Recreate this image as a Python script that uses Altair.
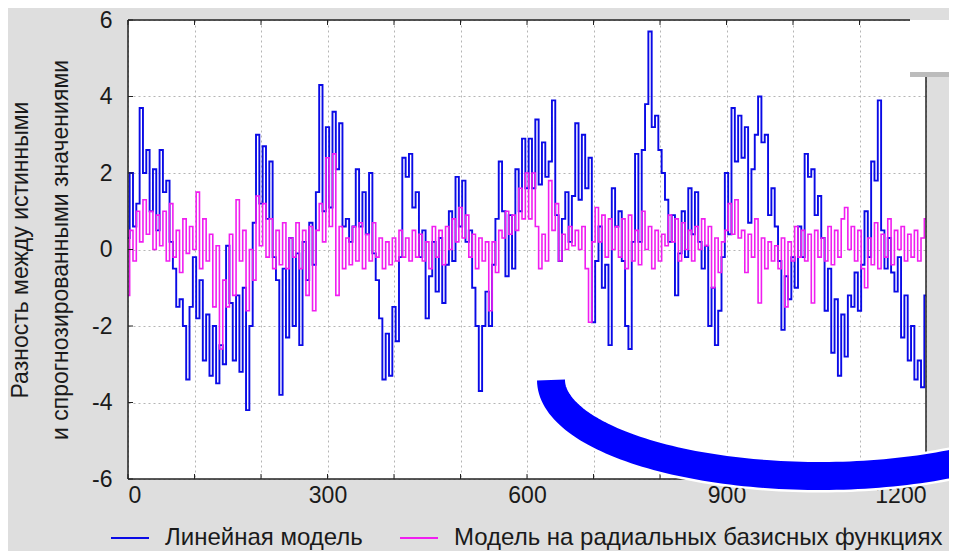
import altair as alt
import pandas as pd
import numpy as np

# ---------------- data ----------------
X_START = 0
X_STEP = 5

BLUE = [
    0.3, 2.0, 0.6, 1.2, 3.7, 2.0, 2.6, 1.0, 2.1, 0.5,
    2.6, 1.5, 1.8, 0.2, -0.5, -1.5, -1.3, -2.0, -3.4, -1.5,
    -0.2, -1.8, -0.8, -2.9, -1.7, -3.3, -2.0, -3.5, -2.5, -3.0,
    0.1, -1.4, -2.9, -1.2, -3.2, -1.0, -4.2, -2.0, 0.7, 3.0,
    1.2, 2.7, 0.8, 2.3, -0.2, -0.8, -3.8, -0.5, -2.3, 0.3,
    -2.0, -0.1, -2.5, 0.2, -0.8, 0.7, -0.4, 1.5, 4.3, 1.0,
    3.2, 1.1, 3.6, 2.1, 3.3, 0.6, 0.8, 0.2, 0.6, 2.1,
    0.6, 1.5, 0.4, 2.0, -0.1, -0.8, -1.8, -3.4, -2.2, -3.3,
    -1.5, -2.4, -0.2, 2.4, 1.9, 2.5, 1.1, 1.5, -0.2, 0.5,
    -1.8, -0.7, 0.2, -1.1, 0.3, -1.4, -0.4, 1.0, -0.3, 1.9,
    0.6, 1.8, 0.2, 0.5, -1.0, -2.0, -3.7, -2.0, -1.1, -2.0,
    -0.4, 0.8, 2.3, 1.0, -0.7, 0.9, -0.5, 2.1, 1.0, 2.9,
    1.6, 2.9, 1.6, 3.4, 1.7, 2.8, 1.9, 2.3, 3.9, 0.9,
    -0.3, 0.8, 1.5, 0.2, 1.4, 3.3, 1.3, 3.0, 1.6, 2.4,
    -1.9, -0.3, 0.6, -1.0, -0.4, -2.5, 1.6, 0.6, 1.0, -0.3,
    -2.0, -2.6, 0.2, 2.5, 0.2, 2.6, 3.8, 5.7, 3.2, 3.5,
    2.6, 2.0, 1.3, 0.2, 0.9, -1.2, -0.1, 1.0, -0.2, 1.6,
    0.4, 1.5, 0.2, -0.5, 0.1, -2.0, -1.0, -2.5, -1.6, -0.2,
    2.0, 0.4, 3.7, 2.3, 3.5, 2.4, 3.2, 0.7, 2.1, 3.0,
    4.0, 2.8, 3.0, 0.9, 1.6, 0.6, -0.3, -2.1, -0.7, -1.3,
    -0.2, -1.0, 0.6, -0.2, 2.5, 1.9, 2.1, 0.9, 1.4, 0.3,
    -1.6, -0.5, -2.7, -1.3, -3.3, -1.7, -2.8, -1.2, -1.5, -0.6,
    -1.6, -0.4, 1.0, -0.2, 2.3, 1.8, 3.9, 0.5, -0.5, 0.3,
    -0.6, -1.1, -0.2, -2.3, -1.2, -2.9, -2.0, -3.4, -2.9, -3.6,
    -1.2,
]

MAGENTA = [
    -1.2, 0.5, -0.3, 1.0, 0.2, 1.3, 0.4, 1.0, 0.0, 0.9,
    0.1, 1.0, -0.3, 1.2, -0.2, 0.5, -0.6, 0.8, -0.1, 0.6,
    0.0, 1.5, -0.5, 0.8, -0.3, 0.4, -1.5, 0.1, -2.6, -0.8,
    -1.5, 0.4, -1.2, 1.3, -0.3, 0.5, -1.6, 0.0, -0.8, 1.4,
    0.1, 1.2, -0.2, 0.8, -0.5, 0.5, -0.4, 0.7, -0.5, 0.3,
    -0.2, 0.7, -0.5, 0.5, -1.2, 0.6, -1.6, 0.5, 1.2, 0.2,
    2.4, 0.6, 2.5, -1.2, 0.6, -0.5, 0.3, -0.4, 0.6, -0.3,
    0.7, -0.5, 0.4, -0.3, 0.7, -0.2, 0.3, -0.5, 0.2, -0.4,
    0.3, -0.3, 0.5, -0.2, 0.3, -0.3, 0.5, -0.2, 0.4, -0.3,
    0.2, -0.5, 0.6, -0.2, 0.5, -0.4, 0.6, 0.0, 0.8, 0.2,
    1.1, 0.3, 0.9, -0.2, 0.4, -0.5, 0.3, -0.3, 0.2, -1.6,
    0.2, -0.6, 0.5, 0.3, 1.0, 0.4, 0.9, 0.5, 1.6, 0.8,
    2.0, 0.8, 2.0, 0.6, -0.5, 0.4, -0.3, 1.8, 0.5, 1.2,
    -0.3, 0.4, 0.0, 0.6, 0.1, 0.5, 0.0, 0.6, -0.5, -1.9,
    0.2, 1.1, 0.2, 0.9, -0.2, 0.8, 0.0, 0.6, -0.2, 0.8,
    -0.5, 0.9, -0.3, 0.5, -0.4, 1.0, 0.0, 0.6, -0.5, 0.5,
    -0.3, 0.4, 0.1, 0.9, 0.2, 0.8, -0.3, 0.7, 0.0, 0.5,
    -0.3, 0.6, 0.0, 0.8, 0.1, 0.6, -1.0, 0.3, -0.6, 0.2,
    0.5, 1.2, 0.4, 1.3, 0.3, 0.5, -0.6, 0.4, -0.2, 0.8,
    -1.4, 0.3, -0.5, 0.2, -0.3, 0.1, -0.5, 0.3, -1.5, 0.2,
    -0.3, 0.6, -0.2, 0.5, -0.3, 0.4, -1.4, 0.5, -0.2, 0.3,
    -0.3, 0.6, -0.4, 0.5, -0.2, 0.8, 1.1, 0.0, 0.6, -0.3,
    0.5, -0.5, -1.0, 0.3, -0.4, 0.7, -0.5, 0.4, -0.2, 0.8,
    -0.4, 0.5, 0.0, 0.6, -0.3, 0.4, -0.2, 0.5, -0.3, 0.3,
    0.8,
]

SERIES = ["Линейная модель", "Модель на радиальных базисных функциях"]
COLORS = ["#0a0ae6", "#f01ef0"]
X_TICKS = [0, 100, 200, 300, 400, 500, 600, 700, 800, 900, 1000, 1100, 1200]
Y_TICKS = [-6, -4, -2, 0, 2, 4, 6]
Y_TITLE = ["Разность между истинными", "и спрогнозированными значениями"]

# ---------------- layout ----------------
W, H = 798, 459
FONT = "Liberation Sans"
TXT = "#1a1a1a"
FS = 23
LFS = 24

xs = [X_START + i * X_STEP for i in range(len(BLUE))]
df_b = pd.DataFrame({"t": xs, "v": BLUE, "s": SERIES[0]})
df_m = pd.DataFrame({"t": xs, "v": MAGENTA, "s": SERIES[1]})

xscale = alt.Scale(domain=[0, 1200], nice=False, zero=False)
yscale = alt.Scale(domain=[-6, 6], nice=False, zero=False)

legend = alt.Legend(
    title=None, orient="none", legendX=-18, legendY=498, direction="horizontal",
    symbolType="stroke", symbolSize=1444, symbolStrokeWidth=2,
    labelFontSize=LFS, labelFont=FONT, labelColor=TXT, labelOffset=15,
    columnPadding=33, padding=0, labelLimit=0,
)
color = alt.Color("s:N", scale=alt.Scale(domain=SERIES, range=COLORS), legend=legend)

x_axis = alt.Axis(
    values=X_TICKS,
    labelExpr="datum.value % 300 === 0 ? toString(datum.value) : ''",
    grid=True, gridDash=[2, 3], gridColor="#b5b5b5", gridWidth=1,
    domain=False, ticks=False, tickSize=0, labelPadding=5,
    labelFontSize=FS, labelFont=FONT, labelColor=TXT, title=None,
)
y_axis = alt.Axis(
    values=Y_TICKS, labelExpr="toString(datum.value)",
    grid=True, gridDash=[2, 3], gridColor="#b5b5b5", gridWidth=1,
    domain=False, ticks=False, tickSize=0, labelPadding=16,
    labelFontSize=FS, labelFont=FONT, labelColor=TXT,
    title=Y_TITLE, titleFontSize=FS, titleFont=FONT, titleColor=TXT,
    titleFontWeight="normal", titleLineHeight=40, titleX=-96,
    titleBaseline="bottom",
)

blue = alt.Chart(df_b).mark_line(interpolate="step", strokeWidth=1.9).encode(
    x=alt.X("t:Q", scale=xscale, axis=x_axis),
    y=alt.Y("v:Q", scale=yscale, axis=y_axis),
    color=color,
)
magenta = alt.Chart(df_m).mark_line(interpolate="step", strokeWidth=1.6).encode(
    x=alt.X("t:Q", scale=xscale, axis=None),
    y=alt.Y("v:Q", scale=yscale, axis=None),
    color=color,
)

one = pd.DataFrame({"k": [0]})
BORDER = "#222222"

df_xt = pd.DataFrame({"t": X_TICKS})
df_yt = pd.DataFrame({"v": Y_TICKS})
ticks_bottom = alt.Chart(df_xt).mark_rule(color=BORDER, strokeWidth=1).encode(
    x=alt.X("t:Q", scale=xscale, axis=None), y=alt.value(H - 5), y2=alt.value(H))
ticks_top = alt.Chart(df_xt).mark_rule(color=BORDER, strokeWidth=1).encode(
    x=alt.X("t:Q", scale=xscale, axis=None), y=alt.value(0), y2=alt.value(5))
ticks_left = alt.Chart(df_yt).mark_rule(color=BORDER, strokeWidth=1).encode(
    y=alt.Y("v:Q", scale=yscale, axis=None), x=alt.value(0), x2=alt.value(5))

border_left = alt.Chart(one).mark_rule(color=BORDER, strokeWidth=1.5).encode(
    x=alt.value(0), y=alt.value(0), y2=alt.value(H))
border_bottom = alt.Chart(one).mark_rule(color=BORDER, strokeWidth=1.5).encode(
    x=alt.value(0), x2=alt.value(W), y=alt.value(H))
border_top = alt.Chart(one).mark_rule(color=BORDER, strokeWidth=1.5).encode(
    x=alt.value(0), x2=alt.value(782), y=alt.value(0))
border_right = alt.Chart(one).mark_rule(color=BORDER, strokeWidth=1.5).encode(
    x=alt.value(W), y=alt.value(57), y2=alt.value(H))

# decorative slide elements (white box, its shadow, blue arc)
white_box = alt.Chart(one).mark_rect(color="white").encode(
    x=alt.value(782), x2=alt.value(830), y=alt.value(0), y2=alt.value(52))
box_shadow = alt.Chart(one).mark_rect(color="#bcbcbc").encode(
    x=alt.value(782), x2=alt.value(830), y=alt.value(52), y2=alt.value(57))

th = np.linspace(np.pi, 0.8, 90)
arc_df = pd.DataFrame({
    "i": np.arange(len(th)),
    "ax": 692 + 269 * np.cos(th),
    "ay": 360 + 96 * np.sin(th),
})
arc_white = alt.Chart(arc_df).mark_line(color="white", strokeWidth=33, strokeCap="butt").encode(
    x=alt.X("ax:Q", scale=None, axis=None), y=alt.Y("ay:Q", scale=None, axis=None),
    order="i:Q")
arc_blue = alt.Chart(arc_df).mark_line(color="#0000ff", strokeWidth=28, strokeCap="butt").encode(
    x=alt.X("ax:Q", scale=None, axis=None), y=alt.Y("ay:Q", scale=None, axis=None),
    order="i:Q")

chart = alt.layer(
    blue, magenta,
    ticks_bottom, ticks_top, ticks_left,
    border_left, border_bottom, border_top, border_right,
    white_box, box_shadow, arc_white, arc_blue,
).resolve_scale(
    x="independent", y="independent"
).properties(
    width=W, height=H,
    autosize=alt.AutoSizeParams(type="none"),
    padding={"left": 120, "top": 12, "right": 23, "bottom": 72},
    background="#dedede",
).configure_view(
    stroke="transparent", fill="white"
)

chart.save("out.html", embed_options={"renderer": "svg", "actions": False})
